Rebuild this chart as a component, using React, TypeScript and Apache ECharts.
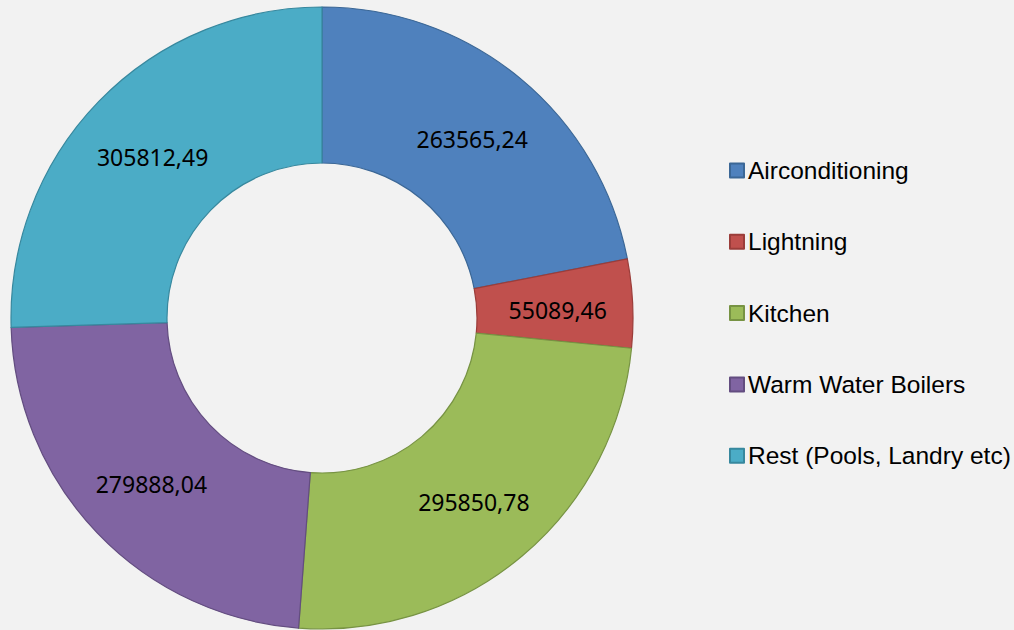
import React, { useEffect, useRef } from "react";
import * as echarts from "echarts";

const categories = [
  "Airconditioning",
  "Lightning",
  "Kitchen",
  "Warm Water Boilers",
  "Rest (Pools, Landry etc)",
];
const values = [263565.24, 55089.46, 295850.78, 279888.04, 305812.49];
const colors = ["#4F81BD", "#C0504D", "#9BBB59", "#8064A2", "#4BACC6"];
const borders = ["#3B6796", "#9B3D3A", "#779343", "#634D80", "#37889E"];

export default function App() {
  const ref = useRef<HTMLDivElement>(null);
  useEffect(() => {
    if (!ref.current) return;
    const chart = echarts.init(ref.current, null, { renderer: "svg" });
    chart.setOption({
      animation: false,
      backgroundColor: "#F2F2F2",
      legend: {
        orient: "vertical",
        left: 724,
        top: 153,
        itemWidth: 14,
        itemHeight: 14,
        itemGap: 46.3,
        icon: "rect",
        data: categories,
        textStyle: {
          fontFamily: "Arial",
          fontSize: 24.5,
          lineHeight: 24,
          color: "#000",
          padding: [0, 0, 0, -1],
        },
        selectedMode: false,
      },
      series: [
        {
          type: "pie",
          center: [322, 318],
          radius: [155, 311],
          startAngle: 90,
          clockwise: true,
          avoidLabelOverlap: false,
          label: {
            show: true,
            position: "inside",
            fontFamily: "Noto Sans",
            fontSize: 23,
            color: "#000",
            offset: [0, 3],
            formatter: (p: any) => p.value.toFixed(2).replace(".", ","),
          },
          emphasis: { disabled: true },
          data: categories.map((name, i) => ({
            name,
            value: values[i],
            itemStyle: {
              color: colors[i],
              borderColor: borders[i],
              borderWidth: 1.2,
            },
          })),
        },
      ],
    });
    return () => chart.dispose();
  }, []);
  return (
    <div
      ref={ref}
      style={{ position: "fixed", left: 0, top: 0, width: 1014, height: 630 }}
    />
  );
}
